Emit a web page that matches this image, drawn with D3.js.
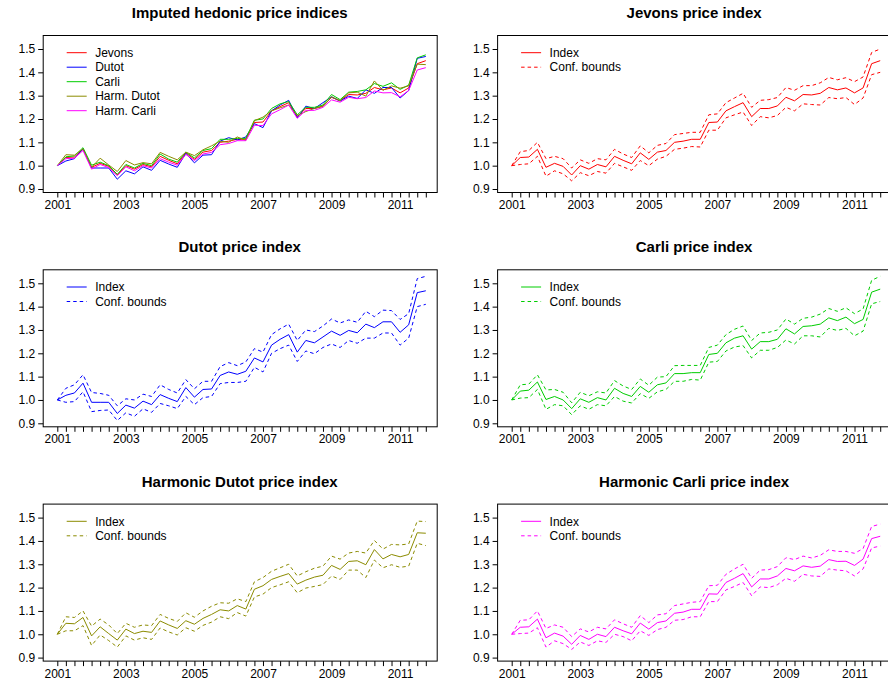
<!DOCTYPE html>
<html>
<head>
<meta charset="utf-8">
<script src="https://cdn.jsdelivr.net/npm/d3@7"></script>
<style>
  html, body { margin: 0; padding: 0; background: #fff; overflow: hidden; }
  svg { display: block; font-family: "Liberation Sans", Arial, Helvetica, sans-serif; }
</style>
</head>
<body>
<svg id="chart" width="888" height="684"></svg>
<script>
// Quarterly observations, 2001 Q1 .. 2011 Q4
const startYear = 2001;
const nQuarters = 44;
const yTicks = [0.9, 1.0, 1.1, 1.2, 1.3, 1.4, 1.5];
const xTickLabels = ["2001", "2003", "2005", "2007", "2009", "2011"];

const jevonsIndex = [1.000,1.035,1.037,1.070,0.993,1.010,0.997,0.960,1.000,0.985,1.005,0.995,1.040,1.023,1.008,1.055,1.027,1.058,1.065,1.100,1.105,1.113,1.113,1.185,1.187,1.235,1.253,1.270,1.210,1.245,1.245,1.256,1.293,1.278,1.305,1.303,1.310,1.335,1.325,1.333,1.312,1.333,1.437,1.450];
const jevonsUpper = [1.000,1.060,1.065,1.100,1.030,1.040,1.030,0.990,1.025,1.010,1.030,1.025,1.070,1.050,1.035,1.085,1.055,1.087,1.095,1.133,1.138,1.143,1.143,1.218,1.222,1.270,1.290,1.310,1.250,1.280,1.283,1.292,1.335,1.323,1.343,1.343,1.355,1.378,1.368,1.377,1.360,1.380,1.485,1.500];
const jevonsLower = [1.000,1.005,1.008,1.040,0.955,0.978,0.965,0.935,0.970,0.957,0.975,0.968,1.010,0.995,0.980,1.022,1.000,1.028,1.040,1.070,1.075,1.082,1.080,1.152,1.152,1.205,1.218,1.230,1.172,1.210,1.205,1.215,1.250,1.235,1.265,1.262,1.260,1.292,1.287,1.292,1.262,1.290,1.390,1.400];

const dutotIndex = [1.000,1.020,1.030,1.072,0.990,0.990,0.990,0.942,0.978,0.965,0.995,0.980,1.023,1.007,0.993,1.053,1.012,1.045,1.047,1.105,1.120,1.110,1.123,1.180,1.163,1.235,1.260,1.280,1.205,1.255,1.245,1.270,1.295,1.277,1.298,1.288,1.325,1.310,1.335,1.335,1.290,1.322,1.460,1.468];
const dutotUpper = [1.000,1.050,1.065,1.108,1.032,1.028,1.020,0.975,1.005,1.000,1.025,1.015,1.065,1.045,1.030,1.087,1.048,1.080,1.080,1.143,1.160,1.147,1.163,1.220,1.205,1.280,1.305,1.325,1.255,1.300,1.293,1.317,1.347,1.330,1.343,1.333,1.380,1.357,1.385,1.383,1.345,1.370,1.520,1.530];
const dutotLower = [1.000,0.990,0.993,1.035,0.950,0.955,0.957,0.912,0.945,0.930,0.962,0.947,0.985,0.975,0.963,1.015,0.980,1.010,1.015,1.070,1.075,1.075,1.080,1.140,1.120,1.200,1.220,1.235,1.165,1.210,1.198,1.225,1.240,1.225,1.255,1.243,1.265,1.265,1.287,1.287,1.235,1.265,1.400,1.410];

const carliIndex = [1.000,1.038,1.042,1.077,1.002,1.015,1.000,0.963,1.005,0.990,1.010,1.000,1.050,1.028,1.015,1.058,1.033,1.065,1.073,1.113,1.113,1.117,1.117,1.195,1.200,1.245,1.265,1.275,1.218,1.250,1.250,1.260,1.305,1.283,1.315,1.318,1.325,1.352,1.340,1.355,1.327,1.345,1.462,1.475];
const carliUpper = [1.000,1.065,1.068,1.108,1.043,1.045,1.033,0.988,1.033,1.018,1.035,1.030,1.083,1.060,1.045,1.090,1.063,1.098,1.100,1.147,1.148,1.148,1.148,1.225,1.235,1.280,1.303,1.317,1.255,1.287,1.290,1.300,1.347,1.325,1.350,1.355,1.368,1.392,1.380,1.395,1.370,1.390,1.513,1.530];
const carliLower = [1.000,1.008,1.010,1.045,0.960,0.980,0.975,0.937,0.975,0.960,0.980,0.975,1.015,0.995,0.987,1.027,1.007,1.035,1.045,1.080,1.080,1.088,1.085,1.162,1.165,1.210,1.227,1.233,1.180,1.213,1.213,1.225,1.257,1.240,1.275,1.275,1.270,1.307,1.298,1.307,1.275,1.295,1.412,1.422];

const hDutotIndex = [1.000,1.047,1.045,1.072,0.993,1.032,1.003,0.975,1.022,1.003,1.013,1.008,1.057,1.040,1.025,1.058,1.043,1.068,1.085,1.105,1.100,1.123,1.108,1.193,1.208,1.235,1.248,1.260,1.215,1.232,1.245,1.253,1.295,1.278,1.312,1.315,1.298,1.363,1.323,1.342,1.332,1.342,1.435,1.433];
const hDutotUpper = [1.000,1.075,1.072,1.100,1.035,1.065,1.040,1.003,1.047,1.030,1.040,1.037,1.085,1.068,1.055,1.092,1.073,1.100,1.120,1.135,1.133,1.152,1.140,1.225,1.243,1.270,1.285,1.300,1.250,1.268,1.283,1.292,1.335,1.322,1.348,1.355,1.348,1.402,1.365,1.385,1.383,1.387,1.485,1.483];
const hDutotLower = [1.000,1.015,1.015,1.037,0.952,0.997,0.973,0.945,0.993,0.975,0.985,0.978,1.027,1.010,0.997,1.028,1.013,1.038,1.052,1.075,1.067,1.093,1.078,1.160,1.172,1.200,1.212,1.225,1.178,1.198,1.205,1.213,1.250,1.235,1.275,1.275,1.243,1.318,1.285,1.298,1.287,1.292,1.390,1.380];

const hCarliIndex = [1.000,1.030,1.032,1.065,0.985,1.005,0.992,0.957,0.995,0.978,1.000,0.990,1.030,1.015,1.002,1.048,1.022,1.050,1.057,1.090,1.095,1.107,1.107,1.173,1.172,1.222,1.240,1.260,1.203,1.237,1.237,1.250,1.282,1.272,1.293,1.287,1.292,1.320,1.312,1.313,1.295,1.322,1.410,1.420];
const hCarliUpper = [1.000,1.060,1.062,1.100,1.025,1.040,1.030,0.990,1.023,1.010,1.030,1.023,1.062,1.045,1.030,1.080,1.050,1.083,1.088,1.123,1.130,1.137,1.140,1.208,1.210,1.257,1.280,1.300,1.240,1.275,1.277,1.290,1.328,1.320,1.335,1.327,1.338,1.362,1.355,1.355,1.347,1.367,1.462,1.472];
const hCarliLower = [1.000,1.003,1.005,1.028,0.945,0.972,0.960,0.935,0.967,0.952,0.972,0.965,1.000,0.990,0.972,1.015,0.995,1.020,1.030,1.060,1.063,1.075,1.075,1.140,1.140,1.190,1.205,1.222,1.165,1.203,1.200,1.212,1.240,1.227,1.257,1.250,1.248,1.280,1.275,1.272,1.250,1.280,1.370,1.378];

const colors = {
  jevons: "#ff0000",
  dutot: "#0000ff",
  carli: "#00cd00",
  hDutot: "#8b8b00",
  hCarli: "#ff00ff"
};

const quarterTimes = d3.range(nQuarters).map(i => startYear + i / 4);

const svg = d3.select("#chart");

// Panel geometry (plot region and layout grid)
const plotW = 394, plotH = 157;
const colX = [42.7, 497.1];
const rowY = [35, 269.3, 503.6];

const x = d3.scaleLinear()
  .domain([startYear, startYear + (nQuarters - 1) / 4])
  .range([14.6, 14.6 + 8.57 * (nQuarters - 1)]);
const y = d3.scaleLinear().domain([0.9, 1.5]).range([154, 14]);

const line = d3.line()
  .x((d, i) => x(quarterTimes[i]))
  .y(d => y(d));

function drawPanel(px, py, title, series, legendItems) {
  const g = svg.append("g").attr("transform", `translate(${px},${py})`);

  // title
  g.append("text")
    .attr("x", plotW / 2).attr("y", -17)
    .attr("text-anchor", "middle")
    .attr("font-weight", "bold")
    .attr("font-size", 15)
    .text(title);

  // y axis
  const yAxis = d3.axisLeft(y).tickValues(yTicks).tickFormat(d3.format(".1f"))
    .tickSize(5).tickPadding(3);
  const ya = g.append("g").attr("transform", "translate(0.5,0)").call(yAxis);
  ya.select(".domain").remove();
  ya.selectAll("text").attr("font-size", 12).attr("fill", "#000")
    .style("font-family", "'Liberation Sans', Arial, sans-serif");
  ya.selectAll("line").attr("stroke", "#000");

  // x axis: a tick per quarter, labels every second year
  const xAxis = d3.axisBottom(x).tickValues(quarterTimes)
    .tickFormat(d => {
      const s = String(d);
      return xTickLabels.includes(s) ? s : "";
    })
    .tickSize(5).tickPadding(3);
  const xa = g.append("g").attr("transform", `translate(0,${plotH + 0.5})`).call(xAxis);
  xa.select(".domain").remove();
  xa.selectAll("text").attr("font-size", 12).attr("fill", "#000")
    .style("font-family", "'Liberation Sans', Arial, sans-serif");
  xa.selectAll("line").attr("stroke", "#000");

  // series
  series.forEach(s => {
    g.append("path")
      .datum(s.values)
      .attr("fill", "none")
      .attr("stroke", s.color)
      .attr("stroke-width", 1)
      .attr("stroke-dasharray", s.dashed ? "3.5,3" : null)
      .attr("d", line);
  });

  // frame
  g.append("rect")
    .attr("x", 0.5).attr("y", 0.5)
    .attr("width", plotW).attr("height", plotH)
    .attr("fill", "none").attr("stroke", "#000").attr("stroke-width", 1);

  // legend
  const lg = g.append("g").attr("transform", "translate(24,17.7)");
  legendItems.forEach((it, i) => {
    const row = lg.append("g").attr("transform", `translate(0,${i * 14.5})`);
    row.append("line")
      .attr("x1", 0).attr("x2", 20).attr("y1", 0).attr("y2", 0)
      .attr("stroke", it.color).attr("stroke-width", 1)
      .attr("stroke-dasharray", it.dashed ? "3.5,3" : null);
    row.append("text")
      .attr("x", 28.5).attr("y", 0).attr("dy", "0.35em")
      .attr("font-size", 12)
      .text(it.label);
  });
}

// Combined panel
drawPanel(colX[0], rowY[0], "Imputed hedonic price indices",
  [
    { values: jevonsIndex, color: colors.jevons },
    { values: dutotIndex, color: colors.dutot },
    { values: carliIndex, color: colors.carli },
    { values: hDutotIndex, color: colors.hDutot },
    { values: hCarliIndex, color: colors.hCarli }
  ],
  [
    { label: "Jevons", color: colors.jevons },
    { label: "Dutot", color: colors.dutot },
    { label: "Carli", color: colors.carli },
    { label: "Harm. Dutot", color: colors.hDutot },
    { label: "Harm. Carli", color: colors.hCarli }
  ]);

// Individual indices with confidence bounds
const singles = [
  { title: "Jevons price index", idx: jevonsIndex, up: jevonsUpper, lo: jevonsLower, color: colors.jevons, col: 1, row: 0 },
  { title: "Dutot price index", idx: dutotIndex, up: dutotUpper, lo: dutotLower, color: colors.dutot, col: 0, row: 1 },
  { title: "Carli price index", idx: carliIndex, up: carliUpper, lo: carliLower, color: colors.carli, col: 1, row: 1 },
  { title: "Harmonic Dutot price index", idx: hDutotIndex, up: hDutotUpper, lo: hDutotLower, color: colors.hDutot, col: 0, row: 2 },
  { title: "Harmonic Carli price index", idx: hCarliIndex, up: hCarliUpper, lo: hCarliLower, color: colors.hCarli, col: 1, row: 2 }
];

singles.forEach(p => {
  drawPanel(colX[p.col], rowY[p.row], p.title,
    [
      { values: p.idx, color: p.color },
      { values: p.up, color: p.color, dashed: true },
      { values: p.lo, color: p.color, dashed: true }
    ],
    [
      { label: "Index", color: p.color },
      { label: "Conf. bounds", color: p.color, dashed: true }
    ]);
});
</script>
</body>
</html>
